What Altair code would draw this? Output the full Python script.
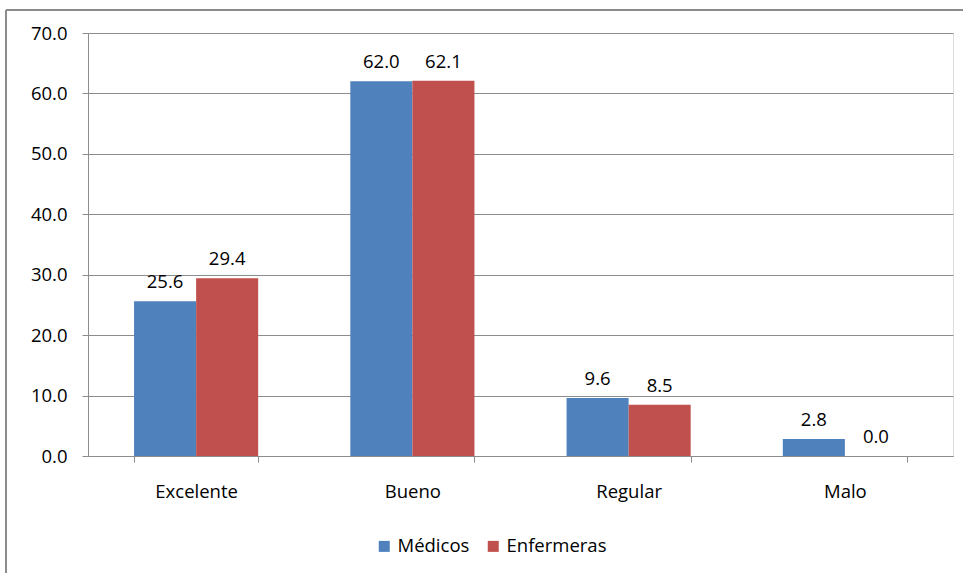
import altair as alt
import pandas as pd

categories = ["Excelente", "Bueno", "Regular", "Malo"]
series_names = ["Médicos", "Enfermeras"]
medicos = [25.6, 62.0, 9.6, 2.8]
enfermeras = [29.4, 62.1, 8.5, 0.0]
colors = ["#4F81BD", "#C0504D"]

rows = []
for i, c in enumerate(categories):
    rows.append({"cat": c, "serie": series_names[0], "valor": medicos[i]})
    rows.append({"cat": c, "serie": series_names[1], "valor": enfermeras[i]})
df = pd.DataFrame(rows)

FONT = "Open Sans"
FS = 18.5
GRID = "#8c8c8c"

x_enc = alt.X("cat:N", sort=categories, title=None,
              scale=alt.Scale(paddingInner=0.426, paddingOuter=0.213),
              axis=alt.Axis(labelAngle=0, tickBand="extent", tickSize=6,
                            labelPadding=20, labelBaseline="top",
                            domainColor=GRID, tickColor=GRID,
                            labelFont=FONT, labelFontSize=FS, labelColor="#000000"))
y_enc = alt.Y("valor:Q", title=None,
              scale=alt.Scale(domain=[0, 70], nice=False),
              axis=alt.Axis(values=[0, 10, 20, 30, 40, 50, 60, 70], format=".1f",
                            tickSize=6, labelPadding=15, grid=True,
                            gridColor=GRID, domainColor=GRID, tickColor=GRID,
                            labelFont=FONT, labelFontSize=FS, labelColor="#000000"))
color_enc = alt.Color("serie:N", sort=series_names,
                      scale=alt.Scale(domain=series_names, range=colors),
                      legend=alt.Legend(title=None, orient="none", direction="horizontal",
                                        legendX=287, legendY=504, symbolType="square",
                                        symbolSize=121, symbolStrokeWidth=0,
                                        labelFont=FONT, labelFontSize=FS,
                                        labelColor="#000000", columnPadding=14,
                                        labelOffset=4, padding=0))
xoff = alt.XOffset("serie:N", sort=series_names)

base = alt.Chart(df)
bars = base.mark_bar().encode(x=x_enc, y=y_enc, color=color_enc, xOffset=xoff)
labels = base.mark_text(baseline="middle", dy=-19, font=FONT, fontSize=FS,
                        color="#000000").encode(
    x=alt.X("cat:N", sort=categories), y="valor:Q", xOffset=xoff,
    text=alt.Text("valor:Q", format=".1f"))

frame_top = alt.Chart(df).mark_rule(color=GRID, strokeWidth=1.5).encode(
    x=alt.value(-82), x2=alt.value(900), y=alt.value(-23))
frame_left = alt.Chart(df).mark_rule(color=GRID, strokeWidth=1.5).encode(
    x=alt.value(-82), y=alt.value(-23), y2=alt.value(560))

chart = alt.layer(frame_top, frame_left, bars, labels).properties(
    width=865, height=423,
    autosize=alt.AutoSizeParams(type="none"),
    padding={"left": 88, "top": 33, "right": 10, "bottom": 117},
).configure_view(stroke=None).configure(background="white")

chart.save("out.html", embed_options={"renderer": "svg", "actions": False})
